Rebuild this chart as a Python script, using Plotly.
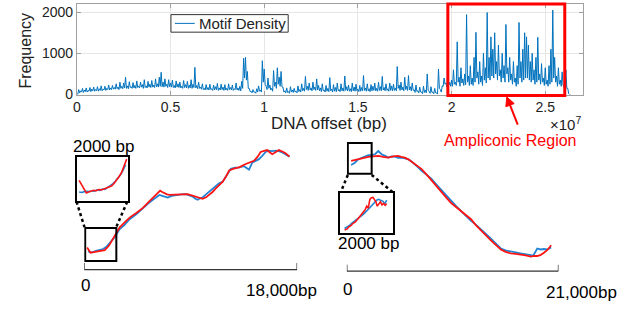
import plotly.graph_objects as go

W, H = 633, 314

# ---------------- Top panel data: motif density along DNA offset (per 100 kb bin) ----------------
bin_bp = 1e5
# upper envelope (peak value) of each bin
motif_density_peak = [
    20, 120, 90, 150, 110, 160, 100, 170, 130, 180,
    120, 190, 140, 210, 130, 200, 150, 230, 160, 220,
    170, 260, 180, 300, 200, 280, 420, 210, 310, 190,
    290, 220, 330, 200, 300, 240, 360, 210, 320, 250,
    340, 230, 380, 260, 420, 540, 300, 380, 250, 360,
    280, 350, 220, 330, 260, 300, 200, 340, 240, 320,
    230, 360, 250, 660, 220, 300, 180, 260, 150, 240,
    170, 250, 140, 230, 190, 270, 160, 250, 180, 240,
    150, 260, 170, 230, 140, 280, 160, 200, 320, 880,
    900, 560, 150, 80, 120, 60, 140, 210, 110, 820,
    620, 200, 400, 230, 150, 580, 300, 650, 420, 560,
    180, 90, 160, 70, 190, 110, 150, 80, 210, 120,
    260, 150, 440, 200, 280, 160, 300, 180, 380, 220,
    160, 260, 110, 220, 150, 410, 130, 240, 170, 280,
    120, 260, 160, 450, 190, 230, 140, 280, 180, 250,
    130, 220, 170, 460, 160, 260, 140, 240, 200, 280,
    150, 300, 190, 440, 170, 260, 140, 280, 210, 250,
    160, 680, 230, 300, 180, 420, 200, 460, 190, 280,
    120, 230, 90, 180, 60, 200, 110, 500, 80, 190,
    60, 150, 40, 620, 120, 210, 400, 280, 520, 300,
    350, 600, 300, 1280, 420, 650, 380, 500, 1940, 450,
    700, 400, 900, 1510, 550, 800, 450, 1000, 650, 1990,
    900, 1400, 1100, 1500, 800, 1200, 600, 1000, 700, 1700,
    650, 900, 500, 800, 400, 700, 1750, 800, 1100, 1500,
    1400, 1200, 800, 1000, 600, 900, 1390, 500, 750, 400,
    650, 350, 700, 1100, 2050, 900, 450, 650, 350, 550,
    200, 600, 150, 0,
]
# lower envelope (floor value) of each bin
motif_density_floor = [
    0, 40, 60, 50, 70, 60, 80, 70, 90, 80,
    90, 80, 100, 90, 110, 100, 120, 110, 120, 130,
    130, 140, 120, 150, 140, 160, 150, 140, 170, 150,
    160, 150, 170, 160, 180, 150, 170, 160, 180, 170,
    180, 170, 190, 180, 200, 190, 180, 200, 170, 190,
    180, 170, 160, 180, 170, 160, 150, 170, 160, 150,
    160, 150, 170, 160, 140, 150, 130, 120, 110, 120,
    110, 120, 100, 110, 120, 100, 110, 120, 100, 110,
    100, 120, 110, 100, 120, 110, 100, 90, 150, 400,
    350, 150, 70, 40, 60, 30, 60, 80, 60, 300,
    250, 120, 150, 110, 80, 200, 150, 250, 200, 180,
    60, 40, 50, 30, 60, 50, 60, 40, 70, 60,
    90, 80, 120, 100, 110, 90, 120, 100, 110, 90,
    70, 90, 60, 80, 70, 90, 60, 80, 70, 90,
    70, 90, 80, 100, 90, 80, 70, 90, 80, 90,
    70, 80, 90, 100, 80, 90, 70, 90, 100, 90,
    80, 100, 90, 110, 90, 100, 80, 100, 90, 100,
    90, 150, 100, 110, 90, 120, 100, 110, 90, 100,
    50, 70, 40, 60, 20, 50, 40, 100, 30, 50,
    20, 40, 10, 150, 60, 200, 250, 180, 230, 200,
    200, 250, 220, 300, 200, 280, 220, 240, 300, 220,
    250, 220, 300, 400, 250, 300, 220, 350, 280, 400,
    350, 450, 400, 500, 350, 450, 300, 400, 300, 500,
    300, 350, 250, 300, 200, 250, 400, 300, 350, 400,
    400, 350, 300, 350, 250, 300, 350, 250, 300, 220,
    250, 200, 250, 300, 400, 300, 200, 250, 200, 220,
    100, 150, 20, 0,
]
x_tick_vals = [0, 0.5e7, 1e7, 1.5e7, 2e7, 2.5e7]
x_tick_text = ["0", "0.5", "1", "1.5", "2", "2.5"]
y_tick_vals = [0, 1000, 2000]
ampliconic_start, ampliconic_end = 1.98e7, 2.604e7

# ---------------- Bottom-left comparison (18,000 bp) ----------------
left_blue_bp = [336, 700, 1000, 1318, 1600, 1878, 2200, 2579, 2800, 2999, 3400, 3840, 4400, 4963,
                5400, 5804, 6100, 6364, 6600, 6785, 7065, 7400, 7766, 8200, 8607, 8900, 9168, 9400,
                9589, 9800, 10009, 10300, 10570, 10850, 11130, 11400, 11691, 12050, 12392, 12750,
                13093, 13500, 13934, 14214, 14500, 14775, 15050, 15336, 15600, 15897, 16200, 16458,
                16750, 17018, 17355]
left_blue_val = [21.7, 21, 22.5, 23.3, 24.5, 26.7, 31, 36.7, 41, 45, 49, 55, 60, 66.7,
                 71, 75, 78, 80, 79, 78.3, 77.3, 79, 80, 80.5, 80.7, 79.5, 78.3, 76,
                 75, 76.5, 77.3, 80.5, 83.3, 87, 90, 92, 93.3, 100, 106.7, 108,
                 108.3, 109.5, 106, 113.3, 115, 116.7, 120, 124, 125.3, 125, 125.5, 125,
                 123.5, 121.7, 119.3]
left_red_bp = [252, 420, 533, 800, 1037, 1400, 1738, 2100, 2439, 2750, 2999, 3400, 3840, 4400, 4963,
               5400, 5804, 6100, 6420, 6600, 6785, 7000, 7205, 7500, 7766, 8250, 8747, 9100, 9449,
               9750, 10009, 10300, 10570, 10850, 11130, 11400, 11691, 11950, 12252, 12650, 13093,
               13654, 14000, 14354, 14650, 14915, 15200, 15476, 15700, 15897, 16200, 16458, 16750,
               17018, 17355]
left_red_val = [26, 22, 20.7, 21.2, 21.7, 22.5, 23.3, 28, 35, 41, 46.7, 51.5, 56.7, 61.5, 66.7,
                72, 76.7, 81, 84.3, 83, 81.7, 80.5, 80, 80.3, 80.7, 80.5, 80.7, 79.5, 78.3,
                77, 76, 77.5, 80, 83, 86.7, 90, 93.3, 98, 105, 107, 108.3,
                111.7, 113, 115, 119, 124, 125.2, 126, 123.5, 121.7, 124, 126, 124.5,
                122.7, 119.3]
left_inset_blue_bp = [100, 200, 300, 400, 500, 600, 700, 800, 900, 1000, 1100, 1200, 1300, 1400,
                      1500, 1600, 1700, 1800, 1900]
left_inset_blue_val = [20, 19, 21, 22, 21, 23, 22, 25, 24, 27, 26, 30, 33, 39, 45, 52, 60, 70, 83]
left_inset_red_bp = [100, 160, 220, 300, 380, 460, 560, 660, 760, 860, 960, 1050, 1150, 1250, 1350,
                     1450, 1550, 1650, 1750, 1850, 1940]
left_inset_red_val = [47, 40, 33, 25, 18, 20, 22, 24, 23, 26, 25, 27, 28, 30, 34, 40, 47, 56, 66, 80, 96]
left_span_bp = 18000

# ---------------- Bottom-right comparison (21,000 bp) ----------------
right_blue_bp = [427, 800, 1150, 1650, 2136, 2500, 2793, 3122, 3451, 3800, 4108, 4450, 4765, 5100,
                 5423, 5750, 6080, 6400, 6737, 7050, 7394, 7900, 8380, 8850, 9366, 9850, 10352,
                 10850, 11338, 11800, 12324, 12800, 13310, 13800, 14296, 14800, 15282, 15750, 16267,
                 16750, 17253, 17750, 18239, 18500, 18897, 19225, 19550, 19883, 20277]
right_blue_val = [110.7, 113, 116.7, 119, 120.7, 121, 121.7, 125, 121.7, 120, 118.3, 119.5, 119.3, 118,
                  118.3, 117.5, 116.7, 114.5, 111.7, 108.5, 105, 101, 96.7, 91, 85, 79, 73.3,
                  68.5, 63.3, 58.5, 53.3, 49.5, 45, 40, 35, 30, 25, 23, 21.7,
                  21, 20, 19.5, 18.3, 17.8, 25, 24, 24.5, 24, 26]
right_red_bp = [427, 800, 1150, 1650, 2136, 2600, 3122, 3600, 4108, 4600, 5094, 5400, 5751, 6100,
                6408, 6900, 7394, 7900, 8380, 8850, 9366, 9850, 10352, 10850, 11338, 11800, 12324,
                12800, 13310, 13800, 14296, 14800, 15282, 15750, 16267, 16750, 17253, 17750, 18239,
                18600, 18897, 19250, 19555, 19900, 20277]
right_red_val = [115, 116, 116.7, 118, 119, 119.5, 120, 119, 118.3, 119.5, 120, 119, 118.3, 116.5,
                 114, 110.5, 106.7, 101, 95, 89, 83.3, 77.5, 71.7, 67.5, 64, 59.5, 55,
                 49, 43.3, 38, 33.3, 28.5, 24, 21.5, 20, 19.5, 19, 18, 16.7,
                 17.5, 17.3, 18.5, 20.7, 23.5, 28.3]
right_inset_red_bp = [160, 260, 320, 400, 480, 560, 640, 700, 780, 860, 940, 1000, 1060, 1120, 1180,
                      1240, 1300, 1350, 1400, 1460, 1520, 1580, 1640, 1700, 1760]
right_inset_red_val = [7, 10, 15, 18, 24, 27, 33, 38, 44, 52, 58, 67, 62, 84, 88, 89, 82, 78, 67, 72,
                       78, 70, 74, 69, 73]
right_inset_blue_bp = [160, 250, 350, 450, 550, 620, 750, 880, 1000, 1060, 1150, 1240, 1320, 1380,
                       1450, 1500, 1560, 1620, 1680, 1730, 1760]
right_inset_blue_val = [11, 14, 19, 25, 30, 33, 41, 47, 55, 59, 67, 72, 78, 82, 84, 83, 80, 79, 72, 78, 82]
right_span_bp = 21000

BLUE_TOP = "#0072BD"
BLUE = "#2383d3"
RED = "#ff1414"
FONT = "Liberation Sans, Arial, sans-serif"


def px(x):
    return x / W


def py(y):
    return 1 - y / H


# interleave peak / floor of every bin so the dense signal reads as a band
dna_offset, motif_density = [], []
for i, (hi, lo) in enumerate(zip(motif_density_peak, motif_density_floor)):
    dna_offset += [i * bin_bp, i * bin_bp + bin_bp / 2]
    motif_density += [hi, lo]

fig = go.Figure()

fig.add_trace(go.Scatter(x=dna_offset, y=motif_density, mode="lines", name="Motif Density",
                         line=dict(color=BLUE_TOP, width=1), xaxis="x", yaxis="y", showlegend=False))

fig.add_trace(go.Scatter(x=left_blue_bp, y=left_blue_val, mode="lines", line=dict(color=BLUE, width=1.8),
                         xaxis="x2", yaxis="y2", showlegend=False))
fig.add_trace(go.Scatter(x=left_red_bp, y=left_red_val, mode="lines", line=dict(color=RED, width=1.8),
                         xaxis="x2", yaxis="y2", showlegend=False))
fig.add_trace(go.Scatter(x=left_inset_blue_bp, y=left_inset_blue_val, mode="lines",
                         line=dict(color=BLUE, width=1.6), xaxis="x3", yaxis="y3", showlegend=False))
fig.add_trace(go.Scatter(x=left_inset_red_bp, y=left_inset_red_val, mode="lines",
                         line=dict(color=RED, width=1.6), xaxis="x3", yaxis="y3", showlegend=False))
fig.add_trace(go.Scatter(x=right_blue_bp, y=right_blue_val, mode="lines", line=dict(color=BLUE, width=1.8),
                         xaxis="x4", yaxis="y4", showlegend=False))
fig.add_trace(go.Scatter(x=right_red_bp, y=right_red_val, mode="lines", line=dict(color=RED, width=1.8),
                         xaxis="x4", yaxis="y4", showlegend=False))
fig.add_trace(go.Scatter(x=right_inset_blue_bp, y=right_inset_blue_val, mode="lines",
                         line=dict(color=BLUE, width=1.6), xaxis="x5", yaxis="y5", showlegend=False))
fig.add_trace(go.Scatter(x=right_inset_red_bp, y=right_inset_red_val, mode="lines",
                         line=dict(color=RED, width=1.6), xaxis="x5", yaxis="y5", showlegend=False))

frame = "rgb(160,160,160)"
hidden = dict(visible=False, fixedrange=True)
inset_ax = dict(showline=True, mirror=True, linecolor="black", linewidth=2, showgrid=False,
                zeroline=False, ticks="", showticklabels=False, fixedrange=True)

fig.update_layout(
    width=W, height=H, autosize=False,
    margin=dict(l=0, r=0, t=0, b=0),
    paper_bgcolor="white", plot_bgcolor="white",
    font=dict(family=FONT, color="#222"),
    hovermode=False,
    xaxis=dict(domain=[px(73.3), px(583)], range=[0, 2.703e7], tickvals=x_tick_vals, ticktext=x_tick_text,
               showline=True, mirror="ticks", linecolor=frame, linewidth=1, ticks="inside", ticklen=4,
               tickcolor=frame, showgrid=True, gridcolor="#e6e6e6", zeroline=False,
               tickfont=dict(size=14, color="#222"), anchor="y", fixedrange=True),
    yaxis=dict(domain=[py(97), py(4)], range=[0, 2200], tickvals=y_tick_vals,
               showline=True, mirror="ticks", linecolor=frame, linewidth=1, ticks="inside", ticklen=4,
               tickcolor=frame, showgrid=True, gridcolor="#e6e6e6", zeroline=False,
               tickfont=dict(size=14, color="#222"), anchor="x", fixedrange=True),
    xaxis2=dict(domain=[px(80.7), px(295)], range=[0, left_span_bp], anchor="y2", **hidden),
    yaxis2=dict(domain=[py(305), py(140)], range=[-25, 140], anchor="x2", **hidden),
    xaxis3=dict(domain=[px(73), px(125)], range=[0, 2000], anchor="y3", **inset_ax),
    yaxis3=dict(domain=[py(206), py(161.5)], range=[0, 100], anchor="x3", **inset_ax),
    xaxis4=dict(domain=[px(345), px(558)], range=[0, right_span_bp], anchor="y4", **hidden),
    yaxis4=dict(domain=[py(305), py(140)], range=[-25, 140], anchor="x4", **hidden),
    xaxis5=dict(domain=[px(338.5), px(391.5)], range=[0, 2000], anchor="y5", **inset_ax),
    yaxis5=dict(domain=[py(239), py(198)], range=[0, 100], anchor="x5", **inset_ax),
)

shapes = []
# legend box for the top panel
shapes.append(dict(type="rect", xref="paper", yref="paper", x0=px(168), x1=px(286), y0=py(33), y1=py(15),
                   line=dict(color="#333", width=1), fillcolor="white", layer="above"))
shapes.append(dict(type="line", xref="paper", yref="paper", x0=px(172), x1=px(192), y0=py(24), y1=py(24),
                   line=dict(color=BLUE_TOP, width=1), layer="above"))
# ampliconic region box
shapes.append(dict(type="rect", xref="x", yref="paper", x0=ampliconic_start, x1=ampliconic_end,
                   y0=py(98), y1=py(4.2), line=dict(color="#ff0000", width=3), layer="above"))
# red arrow pointing at the region (shaft + head)
tail, tip = (517, 128), (506, 99.5)
dx, dy = tip[0] - tail[0], tip[1] - tail[1]
ln = (dx * dx + dy * dy) ** 0.5
ux, uy = dx / ln, dy / ln
hl, hw = 9, 4.5
bx, by = tip[0] - hl * ux, tip[1] - hl * uy
shapes.append(dict(type="line", xref="paper", yref="paper", x0=px(tail[0]), y0=py(tail[1]),
                   x1=px(bx), y1=py(by), line=dict(color="#ff0000", width=2)))
c1 = (bx - hw * uy, by + hw * ux)
c2 = (bx + hw * uy, by - hw * ux)
shapes.append(dict(type="path", xref="paper", yref="paper",
                   path=f"M {px(tip[0])} {py(tip[1])} L {px(c1[0])} {py(c1[1])} L {px(c2[0])} {py(c2[1])} Z",
                   fillcolor="#ff0000", line=dict(color="#ff0000", width=1)))
# zoom rectangles on the main curves
shapes.append(dict(type="rect", xref="x2", yref="y2", x0=84, x1=2717, y0=12.3, y1=46,
                   line=dict(color="black", width=2)))
shapes.append(dict(type="rect", xref="x4", yref="y4", x0=99, x1=2465, y0=101.7, y1=133.3,
                   line=dict(color="black", width=2)))
# dotted connectors
for (x0, y0, x1, y1) in [(73, 207, 81, 233), (124, 207, 113, 233),
                         (346, 179.5, 339, 197), (370, 179.5, 391, 197)]:
    shapes.append(dict(type="line", xref="paper", yref="paper", x0=px(x0), y0=py(y0), x1=px(x1), y1=py(y1),
                       line=dict(color="black", width=2.5, dash="dot")))
# scale bars
for xr, yr, span, ybar, ytop in [("x2", "y2", left_span_bp, 3.3, 10), ("x4", "y4", right_span_bp, 1.7, 8.3)]:
    shapes.append(dict(type="line", xref=xr, yref=yr, x0=0, x1=span, y0=ybar, y1=ybar,
                       line=dict(color="#333", width=1.3)))
    for xv in (0, span):
        shapes.append(dict(type="line", xref=xr, yref=yr, x0=xv, x1=xv, y0=ybar, y1=ytop,
                           line=dict(color="#333", width=1.3)))
fig.update_layout(shapes=shapes)


def label(x, y, text, size, color="black", xanchor="center", angle=0):
    return dict(xref="paper", yref="paper", x=px(x), y=py(y), text=text, showarrow=False,
                xanchor=xanchor, yanchor="middle", textangle=angle, font=dict(size=size, color=color))


ann = [
    label(194, 24, "Motif Density", 15, "#222", xanchor="left"),
    label(327.5, 127, "DNA offset (bp)", 17, "#222"),
    label(21.5, 51.5, "Frequency", 16, "#222", angle=-90),
    label(547, 127, "×10<sup>7</sup>", 15, "#222", xanchor="left"),
    label(510, 144, "Ampliconic Region", 16, "#ff0000"),
    label(100, 150, "2000 bp", 17),
    label(366.7, 250, "2000 bp", 17),
    label(81.7, 293, "0", 17),
    label(279, 298, "18,000bp", 17),
    label(345.7, 296.7, "0", 17),
    label(581, 300, "21,000bp", 17),
]
fig.update_layout(annotations=ann)

fig.write_html("out.html", config={"displayModeBar": False, "staticPlot": True},
               post_script="document.body.style.margin='0';document.body.style.overflow='hidden';")
